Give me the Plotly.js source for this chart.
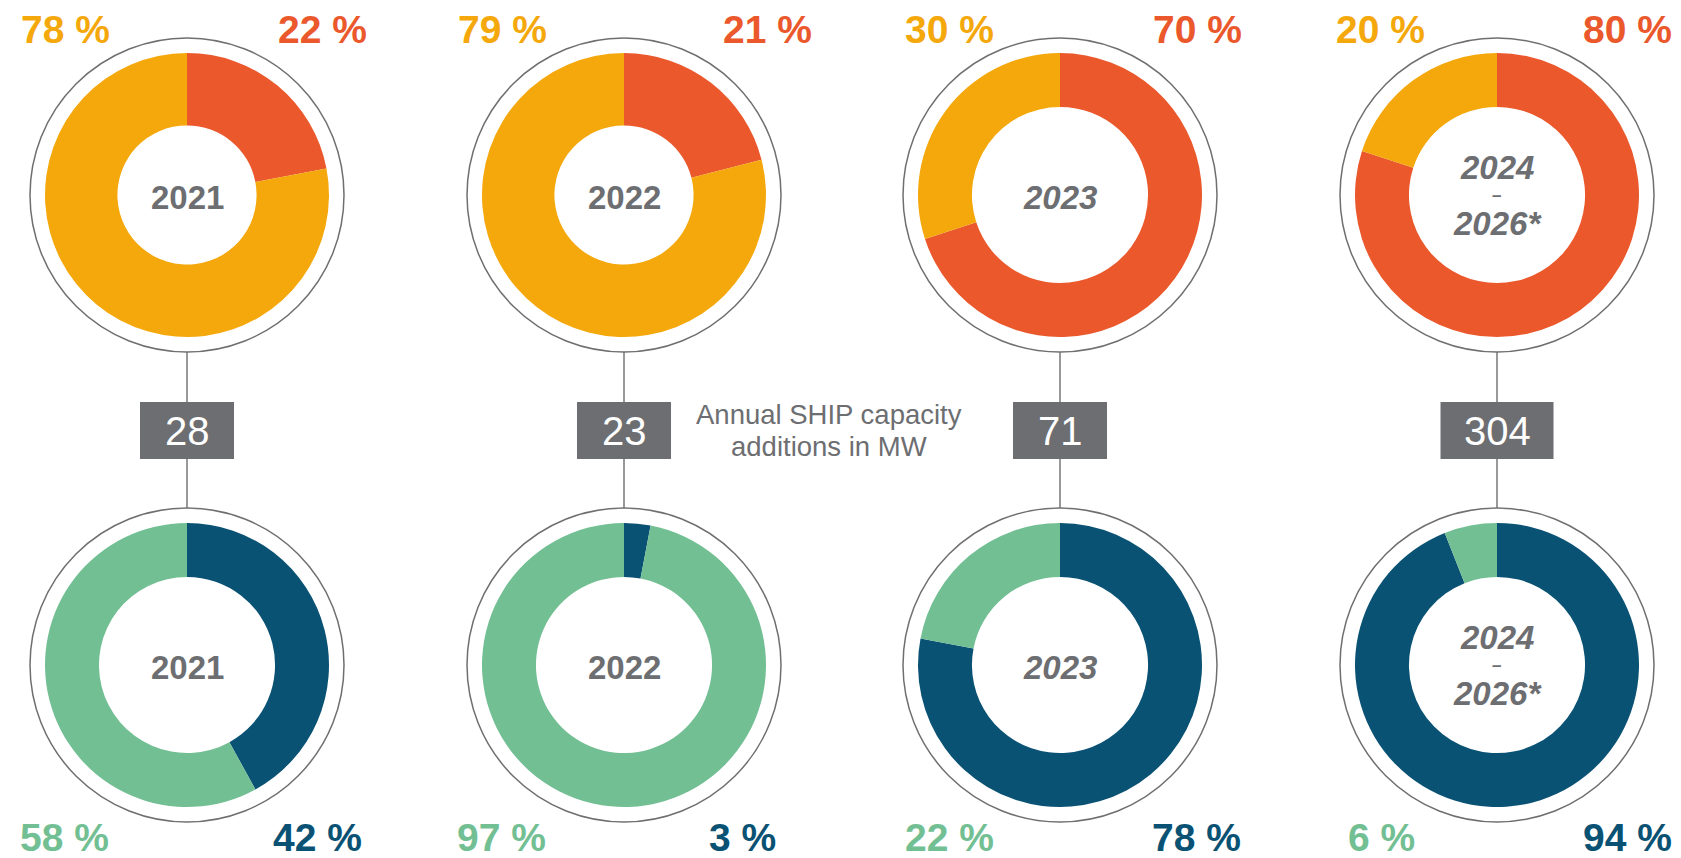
<!DOCTYPE html>
<html>
<head>
<meta charset="utf-8">
<script src="https://cdn.plot.ly/plotly-3.0.1.min.js"></script>
<style>html,body{margin:0;padding:0;background:#fff;}#chart{width:1681px;height:858px;}</style>
</head>
<body>
<div id="chart"></div>
<script>
// ---- data ----
const periods = ['2021', '2022', '2023', '2024-2026*'];
const periodLines = [['2021'], ['2022'], ['2023'], ['2024', '–', '2026*']];
const forecastFlag = [false, false, true, true];
const topLeftShare = [78, 79, 30, 20];    // yellow
const topRightShare = [22, 21, 70, 80];   // orange-red
const bottomLeftShare = [58, 97, 22, 6];  // green
const bottomRightShare = [42, 3, 78, 94]; // dark blue
const capacityMW = [28, 23, 71, 304];
const noteLines = ['Annual SHIP capacity', 'additions in MW'];

// ---- styles / layout ----
const W = 1681, H = 858;
const colX = [187, 624, 1060, 1497];
const topY = 195, botY = 665;
const pieR = 142, ringR = 157;
const topHole = [0.49, 0.49, 0.62, 0.62];
const botHole = [0.62, 0.62, 0.62, 0.62];
const C = {yellow: '#F4A80B', red: '#EA582C', green: '#73BF94', blue: '#0A5274', gray: '#6D6E71'};
const tlDx = [-122, -122, -111, -117], trDx = [135, 143, 137, 130];
const blDx = [-123, -123, -111, -116], brDx = [130, 118, 136, 130];

const px = x => x / W;
const py = y => 1 - y / H;
const FONT = 'Liberation Sans, Arial, sans-serif';

const traces = [];
const shapes = [];
const annotations = [];

function addPie(cx, cy, vals, cols, hole, name) {
  traces.push({
    type: 'pie',
    values: vals,
    labels: ['A', 'B'],
    marker: {colors: cols, line: {width: 0}},
    sort: false,
    direction: 'clockwise',
    rotation: 0,
    hole: hole,
    textinfo: 'none',
    hoverinfo: 'value',
    name: name,
    showlegend: false,
    domain: {x: [px(cx - pieR), px(cx + pieR)], y: [py(cy + pieR), py(cy - pieR)]}
  });
}

function ann(x, y, text, font) {
  annotations.push({
    xref: 'paper', yref: 'paper', x: px(x), y: py(y), text: text, showarrow: false,
    xanchor: 'center', yanchor: 'middle', borderpad: 0,
    font: Object.assign({family: FONT}, font)
  });
}

periods.forEach((p, i) => {
  const cx = colX[i];
  addPie(cx, topY, [topRightShare[i], topLeftShare[i]], [C.red, C.yellow], topHole[i], p);
  addPie(cx, botY, [bottomRightShare[i], bottomLeftShare[i]], [C.blue, C.green], botHole[i], p);

  // connector line
  shapes.push({type: 'line', xref: 'paper', yref: 'paper', x0: px(cx), x1: px(cx), y0: py(topY + ringR), y1: py(botY - ringR), line: {color: '#777', width: 1.5}});
  // outer rings
  [topY, botY].forEach(cy => shapes.push({type: 'circle', xref: 'paper', yref: 'paper',
    x0: px(cx - ringR), x1: px(cx + ringR), y0: py(cy + ringR), y1: py(cy - ringR),
    line: {color: '#6f6f6f', width: 1.5}}));
  // box
  const bw = 56 + 19 * String(capacityMW[i]).length;
  shapes.push({type: 'rect', xref: 'paper', yref: 'paper', x0: px(cx - bw / 2), x1: px(cx + bw / 2), y0: py(459), y1: py(402), fillcolor: C.gray, line: {width: 0}});
  ann(cx, 431, String(capacityMW[i]), {size: 40, color: '#ffffff'});

  // percentages
  const pf = {size: 39, weight: 'bold'};
  ann(cx + tlDx[i], 29, topLeftShare[i] + ' %', Object.assign({color: C.yellow}, pf));
  ann(cx + trDx[i], 29, topRightShare[i] + ' %', Object.assign({color: C.red}, pf));
  ann(cx + blDx[i], 837, bottomLeftShare[i] + ' %', Object.assign({color: C.green}, pf));
  ann(cx + brDx[i], 837, bottomRightShare[i] + ' %', Object.assign({color: C.blue}, pf));

  // centre labels
  const lines = periodLines[i];
  const offs = lines.length === 1 ? [2] : [-28, 0, 28];
  const sizes = lines.length === 1 ? [33] : [33, 17, 33];
  [topY, botY].forEach(cy => {
    lines.forEach((t, k) => {
      ann(cx, cy + offs[k], t, {size: sizes[k], color: C.gray, weight: 'bold', style: forecastFlag[i] ? 'italic' : 'normal'});
    });
  });
});

ann(829, 414, noteLines[0], {size: 27.5, color: C.gray});
ann(829, 447, noteLines[1], {size: 27.5, color: C.gray});

Plotly.newPlot('chart', traces, {
  width: W, height: H,
  margin: {l: 0, r: 0, t: 0, b: 0},
  paper_bgcolor: '#ffffff',
  plot_bgcolor: '#ffffff',
  shapes: shapes,
  annotations: annotations
}, {displayModeBar: false, staticPlot: true});
</script>
</body>
</html>
